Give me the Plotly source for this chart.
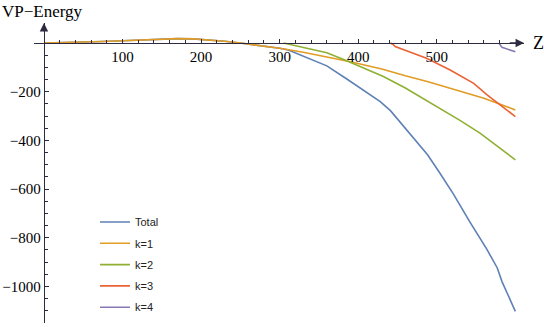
import plotly.graph_objects as go

# Values
z_total = [0, 25, 50, 75, 100, 125, 150, 170, 190, 210, 230, 250, 270, 300, 311, 335, 360,
           385, 405, 428, 441, 453, 470, 488, 503, 521, 543, 564, 577, 583, 600]
v_total = [0, 1, 3, 6, 9, 13, 16, 18, 17, 13, 7, 0, -8, -22, -29, -60, -94,
           -147, -189, -241, -278, -325, -391, -458, -530, -620, -740, -849, -924, -980, -1102]

z_k1 = [0, 25, 50, 75, 100, 125, 150, 170, 190, 210, 230, 250, 270, 300, 330, 360,
        390, 430, 445, 460, 490, 500, 530, 560, 600]
v_k1 = [0, 1, 3, 6, 9, 13, 16, 18, 17, 13, 7, 0, -8, -22, -38, -56,
        -77, -107, -122, -135, -160, -170, -200, -227, -275]

z_k2 = [305, 330, 360, 383, 405, 432, 460, 504, 530, 555, 572, 600]
v_k2 = [0, -17, -40, -70, -100, -138, -185, -268, -319, -370, -411, -480]

z_k3 = [441, 444, 447, 465, 487, 517, 547, 564, 581, 600]
v_k3 = [0, -5, -15, -38, -63, -111, -166, -213, -254, -302]

z_k4 = [579, 583, 600]
v_k4 = [0, -18, -36]

x_ticks = [100, 200, 300, 400, 500]
y_ticks = [-1000, -800, -600, -400, -200]

series = [
    ("Total", z_total, v_total, "#5E81B5"),
    ("k=1", z_k1, v_k1, "#E19C24"),
    ("k=2", z_k2, v_k2, "#8FB032"),
    ("k=3", z_k3, v_k3, "#EB6235"),
    ("k=4", z_k4, v_k4, "#8778B3"),
]

x_range = [-12.7, 611]
y_range = [-1150, 82]
axis_col = "#2e2b40"
serif = "Liberation Serif"

fig = go.Figure()
for name, zs, vs, col in series:
    fig.add_trace(go.Scatter(x=zs, y=vs, mode="lines", name=name, legendgroup=name,
                             line=dict(color=col, width=1.6)))

x_pos = (0 - y_range[0]) / (y_range[1] - y_range[0])
y_pos = (0 - x_range[0]) / (x_range[1] - x_range[0])

fig.update_layout(
    width=544, height=327,
    margin=dict(l=34, r=20, t=23, b=4, autoexpand=False),
    paper_bgcolor="white", plot_bgcolor="white",
    xaxis=dict(range=x_range, anchor="free", position=x_pos, showgrid=False, zeroline=False,
               automargin=False,
               showline=True, linecolor=axis_col, linewidth=1.3,
               tickvals=x_ticks, ticks="inside", ticklen=4, tickcolor=axis_col,
               minor=dict(tickvals=[v for v in range(20, 600, 20) if v % 100], ticks="inside",
                          ticklen=2.5, tickcolor=axis_col),
               tickfont=dict(family=serif, size=15, color="black")),
    yaxis=dict(range=y_range, anchor="free", position=y_pos, showgrid=False, zeroline=False,
               automargin=False,
               showline=True, linecolor=axis_col, linewidth=1.3,
               tickvals=y_ticks, ticks="inside", ticklen=4, tickcolor=axis_col,
               minor=dict(tickvals=[v for v in range(-1150, 0, 50) if v % 200], ticks="inside",
                          ticklen=2.5, tickcolor=axis_col),
               tickfont=dict(family=serif, size=15, color="black")),
    legend=dict(x=0.1245, y=0.385, xanchor="left", yanchor="top", tracegroupgap=2.3,
                font=dict(family="Liberation Sans", size=11, color="#222"),
                bgcolor="rgba(0,0,0,0)"),
    showlegend=True,
)

# axis arrows and labels
fig.add_annotation(x=x_range[1], y=0, ax=x_range[1] - 20, ay=0, xref="x", yref="y",
                   axref="x", ayref="y", showarrow=True, arrowhead=2, arrowsize=1.3,
                   arrowwidth=1.3, arrowcolor=axis_col, text="")
fig.add_annotation(x=0, y=y_range[1], ax=0, ay=y_range[1] - 40, xref="x", yref="y",
                   axref="x", ayref="y", showarrow=True, arrowhead=2, arrowsize=1.3,
                   arrowwidth=1.3, arrowcolor=axis_col, text="")
fig.add_annotation(x=1.015, y=x_pos, xref="paper", yref="paper", xanchor="left",
                   yanchor="middle", showarrow=False, text="Z",
                   font=dict(family=serif, size=18, color="black"))
fig.add_annotation(x=-0.069, y=1.037, xref="paper", yref="paper", xanchor="left",
                   yanchor="middle", showarrow=False, text="VP\u2212Energy",
                   font=dict(family=serif, size=17, color="black"))

# page body has a default margin; drop it so the figure fills the window
fig.write_html("out.html", config={"displayModeBar": False},
               post_script="document.body.style.margin='0';")
